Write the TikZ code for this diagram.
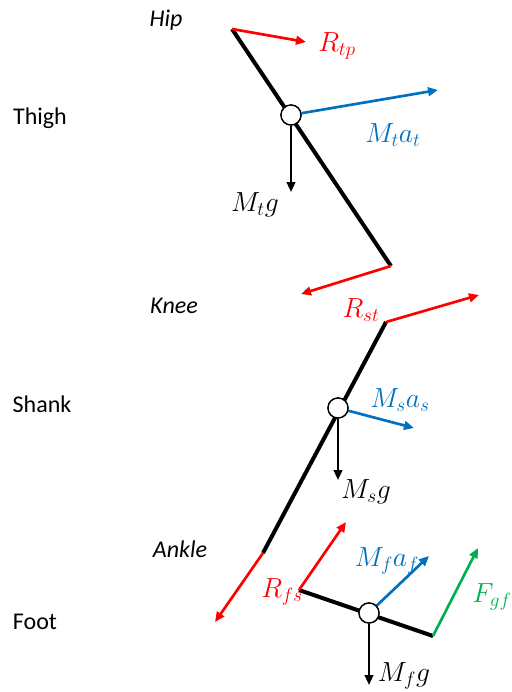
\documentclass[tikz,border=0pt]{standalone}
\usepackage{fontspec}
\setmainfont{Carlito}
\usetikzlibrary{arrows.meta}
\definecolor{fred}{RGB}{255,0,0}
\definecolor{fblue}{RGB}{0,112,192}
\definecolor{fgreen}{RGB}{0,176,80}
\begin{document}
\begin{tikzpicture}[x=0.75pt,y=-0.75pt,
  seg/.style={line width=3pt},
  force/.style={line width=2pt,-{Triangle[length=7.5pt,width=6.5pt]}},
  grav/.style={line width=1.6pt,-{Triangle[length=7.5pt,width=6.5pt]}},
  com/.style={circle,draw,fill=white,line width=1pt,minimum size=15pt,inner sep=0pt},
  seglab/.style={font=\fontsize{18}{22}\selectfont},
  jointlab/.style={font=\fontsize{18}{22}\selectfont\itshape},
  mlab/.style={font=\fontsize{20}{24}\selectfont}]
\useasboundingbox (0,0) rectangle (511,692);
% coordinates
\coordinate (hip) at (232,29);
\coordinate (kneeT) at (391,266);
\coordinate (kneeS) at (386,322);
\coordinate (ank) at (263,553);
\coordinate (heel) at (299,590);
\coordinate (toe) at (433,636);
\coordinate (rtpE) at (306,42);
\coordinate (atE) at (438,90);
\coordinate (rstA) at (301,294);
\coordinate (rstB) at (479,295);
\coordinate (asE) at (414,428);
\coordinate (rfsA) at (215,622);
\coordinate (rfsB) at (346,522);
\coordinate (afE) at (429,556);
\coordinate (fgfE) at (478,548);
\coordinate (tgE) at (291,192);
\coordinate (sgE) at (338,480);
\coordinate (fgE) at (369,685);
% segments
\draw[seg] (hip) -- (kneeT);
\draw[seg] (kneeS) -- (ank);
\draw[seg] (heel) -- (toe);
% centres of mass
\node[com] (cT) at (291,115) {};
\node[com] (cS) at (338,408) {};
\node[com] (cF) at (369,613) {};
% forces
\draw[force,fred] (hip) -- (rtpE);
\draw[force,fblue] (cT) -- (atE);
\draw[grav] (cT.south) -- (tgE);
\draw[force,fred] (kneeT) -- (rstA);
\draw[force,fred] (kneeS) -- (rstB);
\draw[force,fblue] (cS) -- (asE);
\draw[grav] (cS.south) -- (sgE);
\draw[force,fred] (ank) -- (rfsA);
\draw[force,fred] (heel) -- (rfsB);
\draw[force,fblue] (cF) -- (afE);
\draw[force,fgreen] (toe) -- (fgfE);
\draw[grav] (cF.south) -- (fgE);
% redraw circles on top
\node[com] at (cT) {};
\node[com] at (cS) {};
\node[com] at (cF) {};
% labels
\node[jointlab] (lhip) at (166,20) {Hip};
\node[seglab] (lthigh) at (40,118) {Thigh};
\node[jointlab] (lknee) at (174,306) {Knee};
\node[seglab] (lshank) at (42,404) {Shank};
\node[jointlab] (lank) at (180,549) {Ankle};
\node[seglab] (lfoot) at (35,622) {Foot};
\node[mlab,text=fred] (lrtp) at (337,46) {$R_{tp}$};
\node[mlab,text=fblue] (lat) at (393,135) {$M_t a_t$};
\node[mlab] (ltg) at (255,205) {$M_t g$};
\node[mlab,text=fred] (lrst) at (361,310) {$R_{st}$};
\node[mlab,text=fblue] (las) at (400,400) {$M_s a_s$};
\node[mlab] (lsg) at (366,492) {$M_s g$};
\node[mlab,text=fred] (lrfs) at (282,592) {$R_{fs}$};
\node[mlab,text=fblue] (laf) at (387,561) {$M_f a_f$};
\node[mlab,text=fgreen] (lfgf) at (492,597) {$F_{gf}$};
\node[mlab] (lfg) at (404,676) {$M_f g$};
\end{tikzpicture}
\end{document}
